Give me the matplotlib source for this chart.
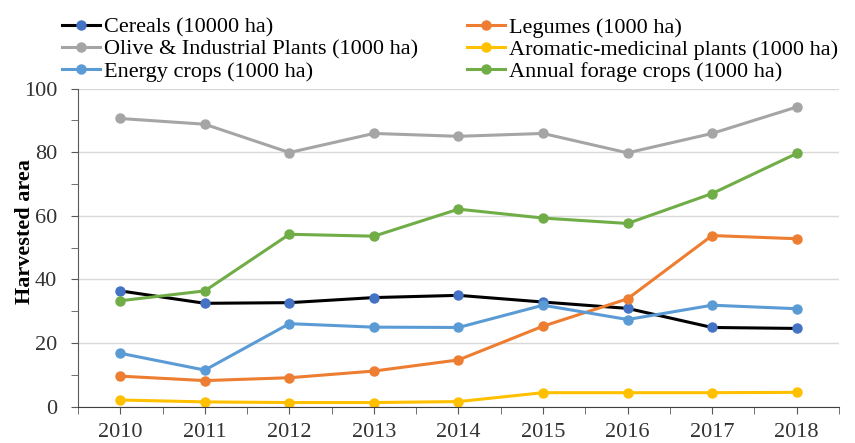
import numpy as np
import matplotlib.pyplot as plt

plt.rcParams['font.family'] = ['Liberation Serif', 'DejaVu Serif']

years = [2010, 2011, 2012, 2013, 2014, 2015, 2016, 2017, 2018]
cereals = [36.4, 32.5, 32.7, 34.3, 35.0, 32.9, 30.9, 24.9, 24.6]
legumes = [9.6, 8.2, 9.1, 11.2, 14.7, 25.3, 33.9, 53.8, 52.8]
olive = [90.6, 88.8, 79.9, 85.9, 85.0, 85.9, 79.8, 85.9, 94.2]
aromatic = [2.1, 1.5, 1.3, 1.3, 1.6, 4.4, 4.4, 4.4, 4.5]
energy = [16.8, 11.5, 26.1, 25.0, 24.9, 31.9, 27.4, 31.9, 30.8]
forage = [33.3, 36.4, 54.2, 53.6, 62.1, 59.3, 57.6, 67.0, 79.6]

fig = plt.figure(figsize=(8.55, 4.43), dpi=100)
ax = fig.add_axes([0.0912, 0.082, 0.890, 0.718])

x = np.arange(len(years))
lw = 2.2
ms = 6.5
h_cer, = ax.plot(x, cereals, color='black', lw=lw, marker='o', ms=ms,
                 mfc='#4472C4', mec='#4472C4', label='Cereals (10000 ha)')
h_leg, = ax.plot(x, legumes, color='#ED7D31', lw=lw, marker='o', ms=ms,
                 label='Legumes (1000 ha)')
h_oli, = ax.plot(x, olive, color='#A5A5A5', lw=lw, marker='o', ms=ms,
                 label='Olive & Industrial Plants (1000 ha)')
h_aro, = ax.plot(x, aromatic, color='#FFC000', lw=lw, marker='o', ms=ms,
                 label='Aromatic-medicinal plants (1000 ha)')
h_ene, = ax.plot(x, energy, color='#5B9BD5', lw=lw, marker='o', ms=ms,
                 label='Energy crops (1000 ha)')
h_for, = ax.plot(x, forage, color='#70AD47', lw=lw, marker='o', ms=ms,
                 label='Annual forage crops (1000 ha)')

ax.set_xlim(-0.5, len(years) - 0.5)
ax.set_ylim(0, 100)
ax.set_xticks(x)
ax.set_xticklabels([str(y) for y in years])
ax.set_xticks(np.arange(-0.5, len(years), 1.0), minor=True)
ax.set_yticks(np.arange(0, 101, 20))
ax.set_yticks(np.arange(10, 100, 20), minor=True)

ax.grid(axis='y', which='major', color='#D9D9D9', lw=1)
ax.set_axisbelow(True)
for s in ['top', 'right']:
    ax.spines[s].set_visible(False)
ax.spines['left'].set_color('#595959')
ax.spines['bottom'].set_color('#404040')
ax.tick_params(axis='both', which='both', direction='out', length=5,
               color='#595959', labelsize=16, labelcolor='#333333')
ax.tick_params(axis='x', pad=7)
ax.tick_params(axis='y', pad=10)

ax.set_ylabel('Harvested area', fontsize=16, fontweight='bold')
ax.yaxis.set_label_coords(-0.056, 0.55)

fig.legend(handles=[h_cer, h_oli, h_ene, h_leg, h_aro, h_for], ncol=2,
           loc='upper left', bbox_to_anchor=(62 / 855, 1 - 17 / 443),
           frameon=False, fontsize=16, handlelength=1.7, handletextpad=0.2,
           columnspacing=2.2, labelspacing=0.08, borderpad=0, borderaxespad=0)

fig.savefig('out.png', dpi=100)
